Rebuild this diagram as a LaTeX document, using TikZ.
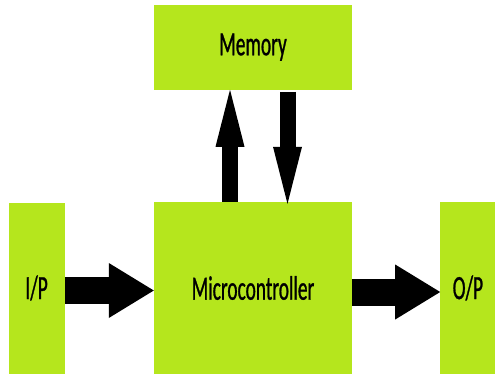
\documentclass[tikz,border=0pt]{standalone}
\usepackage{fontspec}
\usepackage{tikz}
\usetikzlibrary{arrows.meta,positioning}
\newfontfamily\blockfont[FakeStretch=0.57,FakeBold=0.8]{Carlito}
\definecolor{blockgreen}{RGB}{181,230,29}
\tikzset{block/.style={fill=blockgreen, inner sep=0pt, font=\blockfont\fontsize{34}{34}\selectfont}}
\tikzstyle{vbus}=[line width=16pt, -{Triangle[length=57pt,width=29pt,line width=0pt]}]
\tikzstyle{hbus}=[line width=27pt, -{Triangle[length=45pt,width=55pt,line width=0pt]}]

\begin{document}
\begin{tikzpicture}[x=1pt, y=-1pt]
\useasboundingbox (0,0) rectangle (497,374);
\node[block, minimum width=198pt, minimum height=172pt] (micro) at (253,288) {Microcontroller};
\node[block, minimum width=198pt, minimum height=85pt, above=112pt of micro] (mem) {Memory};
\node[block, minimum width=56pt, minimum height=171pt, left=89pt of micro] (ip) {I/P};
\node[block, minimum width=55pt, minimum height=172pt, right=88pt of micro] (op) {O/P};

% data to and from memory
\draw[vbus] ([xshift=-23pt]micro.north) -- ([xshift=-23pt]mem.south);
\draw[vbus] ([xshift=34.5pt,yshift=-2pt]mem.south) -- ([xshift=34.5pt,yshift=-2pt]micro.north);
% input and output
\draw[hbus] ([yshift=-2.5pt]ip.east) -- ([yshift=-2.5pt]micro.west);
\draw[hbus] ([yshift=-4pt]micro.east) -- ([yshift=-4pt]op.west);
\end{tikzpicture}
\end{document}
